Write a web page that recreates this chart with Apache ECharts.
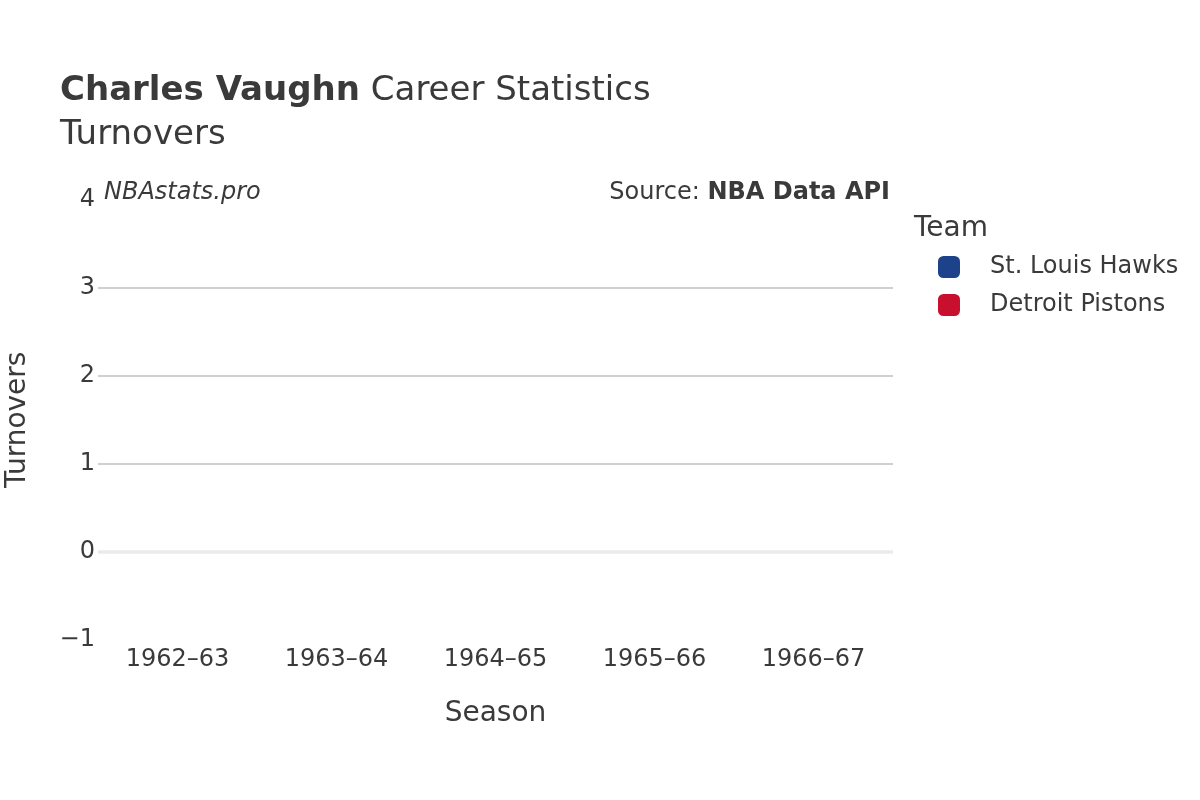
<!DOCTYPE html>
<html>
<head>
<meta charset="utf-8">
<script src="https://cdn.jsdelivr.net/npm/echarts@6/dist/echarts.min.js"></script>
<style>
  html, body { margin: 0; padding: 0; background: #fff; }
  #chart { width: 1200px; height: 800px; }
</style>
</head>
<body>
<div id="chart"></div>
<script>
  // seasons on the x axis
  var seasons = ['1962\u201363', '1963\u201364', '1964\u201365', '1965\u201366', '1966\u201367'];
  // turnovers were not recorded in these seasons, so both series are empty
  var hawksTov = [null, null, null, null, null];
  var pistonsTov = [null, null, null, null, null];
  var teamNames = ['St. Louis Hawks', 'Detroit Pistons'];
  var teamColors = ['#1d428a', '#c8102e'];

  var txt = '#3a3a3a';
  var font = 'DejaVu Sans';

  var myChart = echarts.init(document.getElementById('chart'));
  var option = {
    animation: false,
    textStyle: { fontFamily: font, color: txt },
    title: {
      left: 55, top: 69,
      text: '{b|Charles Vaughn} Career Statistics',
      subtext: 'Turnovers',
      itemGap: 10,
      textStyle: {
        fontFamily: font, fontSize: 34, fontWeight: 'normal', color: txt,
        rich: { b: { fontFamily: font, fontSize: 34, fontWeight: 'bold', color: txt } }
      },
      subtextStyle: { fontFamily: font, fontSize: 34, color: txt }
    },
    graphic: [
      { type: 'text', left: 104, top: 181,
        style: { text: 'NBAstats.pro', font: 'italic 24px DejaVu Sans', fill: txt } },
      { type: 'text', right: 310, top: 181,
        style: { text: '{n|Source: }{b|NBA Data API}', fill: txt,
          rich: { n: { fontFamily: font, fontSize: 24, fill: txt }, b: { fontFamily: font, fontSize: 24, fontWeight: 'bold', fill: txt } } } },
      { type: 'text', left: 914, top: 215,
        style: { text: 'Team', font: '28px DejaVu Sans', fill: txt } }
    ],
    legend: {
      orient: 'vertical',
      left: 933, top: 250,
      itemWidth: 22, itemHeight: 22, itemGap: 14,
      icon: 'roundRect',
      selectedMode: false,
      data: teamNames,
      textStyle: { fontFamily: font, fontSize: 24, color: txt, padding: [0, 0, 0, 25] }
    },
    grid: { left: 98, right: 307, top: 199.5, bottom: 160, containLabel: false, outerBoundsMode: 'none' },
    xAxis: {
      type: 'category',
      data: seasons,
      name: 'Season', nameLocation: 'middle', nameGap: 60,
      nameTextStyle: { fontFamily: font, fontSize: 28, color: txt },
      axisLine: { show: false }, axisTick: { show: false },
      axisLabel: { fontFamily: font, fontSize: 24, color: txt, margin: 8 },
      splitLine: { show: false }
    },
    yAxis: {
      type: 'value',
      min: -1, max: 4, interval: 1,
      name: 'Turnovers', nameLocation: 'middle', nameGap: 66,
      nameTextStyle: { fontFamily: font, fontSize: 28, color: txt },
      axisLine: { show: false }, axisTick: { show: false },
      axisLabel: { fontFamily: font, fontSize: 24, color: txt, margin: 3, padding: [4, 0, 0, 0],
        formatter: function (v) { return v < 0 ? '\u2212' + Math.abs(v) : String(v); } },
      splitLine: { show: true, lineStyle: { width: 1.5,
        color: ['rgba(0,0,0,0)', 'rgba(0,0,0,0)', '#c0c0c0', '#c0c0c0', '#c0c0c0', 'rgba(0,0,0,0)'] } }
    },
    series: [
      { name: teamNames[0], type: 'bar', data: hawksTov, itemStyle: { color: teamColors[0] },
        markLine: { silent: true, symbol: 'none', label: { show: false },
          lineStyle: { color: '#ebebeb', width: 3.5, type: 'solid' }, data: [{ yAxis: 0 }] } },
      { name: teamNames[1], type: 'bar', data: pistonsTov, itemStyle: { color: teamColors[1] } }
    ]
  };
  myChart.setOption(option);
</script>
</body>
</html>
